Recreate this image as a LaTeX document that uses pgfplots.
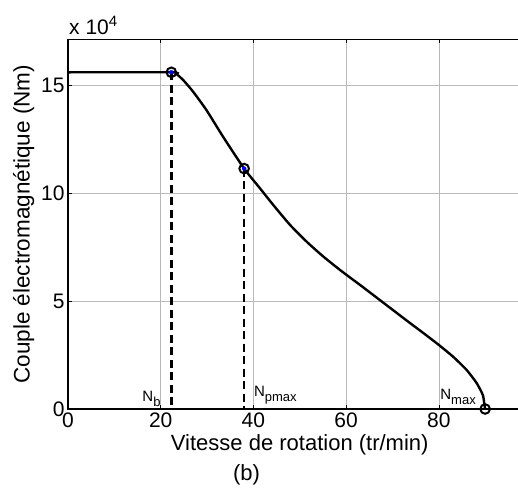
\documentclass[border=0pt]{standalone}
\usepackage{pgfplots}
\pgfplotsset{compat=1.18}
\usepackage{fontspec}
\setmainfont{Liberation Sans}
\newcommand{\Nsub}[1]{N\raisebox{-5pt}{\fontsize{13}{15}\selectfont #1}}
\begin{document}
\begin{tikzpicture}
\begin{axis}[
  scale only axis, width=463.5pt, height=369.5pt,
  xmin=0, xmax=100, ymin=0, ymax=17.12,
  xtick={0,20,40,60,80}, ytick={0,5,10,15},
  grid=major, major grid style={gray!55, line width=0.6pt},
  tick align=inside, major tick length=4pt,
  tick style={black, line width=0.6pt},
  axis line style={black, line width=1.4pt},
  ticklabel style={font=\fontsize{21}{24}\selectfont},
  /pgf/number format/assume math mode=true,
  scaled ticks=false,
  xlabel={Vitesse de rotation (tr/min)},
  ylabel={Couple électromagnétique (Nm)},
  xlabel style={font=\fontsize{22}{26}\selectfont},
  ylabel style={font=\fontsize{22.5}{26}\selectfont},
  clip=false,
]
\addplot[black, line width=2.4pt, smooth, tension=0.35] coordinates {
(0,15.6) (22.3,15.6) (23.5,15.5) (24.9,15.23) (27.0,14.7) (29.9,13.84)
(33.5,12.6) (38.0,11.14) (41.4,10.23) (44.3,9.45) (47.9,8.53) (51.5,7.75)
(55.1,7.06) (58.7,6.44) (60.8,6.10) (63.0,5.75) (66.6,5.16) (70.2,4.57)
(73.8,3.98) (77.4,3.40) (80.0,2.97) (83.1,2.42) (86.0,1.81) (88.2,1.19)
(89.5,0.65) (89.8,0.26) (90,0)
};
\addplot[black, line width=2.6pt, dash pattern=on 8pt off 4.5pt] coordinates {(22.3,15.6) (22.3,0)};
\addplot[black, line width=2.6pt, dash pattern=on 8pt off 4.5pt] coordinates {(38.0,11.14) (38.0,0)};
\addplot[only marks, mark=*, mark size=2pt, blue] coordinates {(22.3,15.6) (38.0,11.14)};
\addplot[only marks, mark=o, mark size=4.8pt, black, line width=2pt] coordinates {(22.3,15.6) (38.0,11.14) (90,0)};
\node[anchor=base east, font=\fontsize{15}{18}\selectfont, inner sep=0pt] at (axis cs:20,0.37) {\Nsub{b}};
\node[anchor=base west, font=\fontsize{15}{18}\selectfont, inner sep=0pt] at (axis cs:40.1,0.6) {\Nsub{pmax}};
\node[anchor=base west, font=\fontsize{15}{18}\selectfont, inner sep=0pt] at (axis cs:80.3,0.46) {\Nsub{max}};
\node[anchor=base west, font=\fontsize{21}{24}\selectfont, inner sep=0pt] at ([xshift=1pt,yshift=4.5pt]rel axis cs:0,1) {x 10\raisebox{8pt}{\fontsize{15}{18}\selectfont 4}};
\node[font=\fontsize{22}{26}\selectfont] at ([yshift=-66pt]axis cs:38.5,0) {(b)};
\coordinate (SW) at (rel axis cs:0,0);
\coordinate (NW) at (rel axis cs:0,1);
\end{axis}
\pgfresetboundingbox
\path[use as bounding box] ([xshift=-68pt,yshift=-84pt]SW) rectangle ([xshift=450pt,yshift=39.5pt]NW);
\end{tikzpicture}
\end{document}
